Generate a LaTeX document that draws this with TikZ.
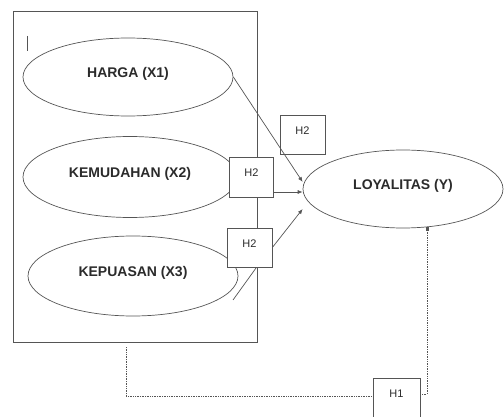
\documentclass[tikz,border=0pt]{standalone}
\usepackage{fontspec}
\setmainfont{Liberation Sans}
\usetikzlibrary{shapes.geometric,arrows.meta}
\definecolor{garis}{HTML}{555555}
\definecolor{teks}{HTML}{2B2B2B}
\tikzset{
  konstruk/.style={ellipse, draw=garis, line width=0.7pt, fill=white, text=teks,
    font=\fontsize{14}{16}\selectfont\bfseries, text depth=10pt, inner sep=0pt},
  hipotesis/.style={rectangle, draw=garis, line width=0.7pt, fill=white, text=teks,
    font=\fontsize{11}{13}\selectfont, text depth=8pt, inner sep=0pt},
  panah/.style={draw=garis, line width=0.7pt, -{Latex[length=5pt,width=4pt]}},
  titik/.style={draw=garis, line width=0.7pt, densely dotted},
}

\begin{document}
\begin{tikzpicture}[x=1pt,y=-1pt]
  \useasboundingbox (0,0) rectangle (504,417);
  \clip (0,0) rectangle (504,417);
  % kotak variabel X
  \node[draw=garis, line width=0.8pt, minimum width=244pt, minimum height=331pt, inner sep=0pt] (kotak) at (135,176.5) {};
  \draw[garis, line width=0.5pt] (27,36) -- (27,51);
  % konstruk
  \node[konstruk, minimum width=210pt, minimum height=78pt] (harga) at (128,77) {HARGA (X1)};
  \node[konstruk, minimum width=214pt, minimum height=81pt] (mudah) at (130,177) {KEMUDAHAN (X2)};
  \node[konstruk, minimum width=210pt, minimum height=80pt] (puas) at (133,276) {KEPUASAN (X3)};
  \node[konstruk, minimum width=200pt, minimum height=78pt] (loyal) at (403,189) {LOYALITAS (Y)};
  % hipotesis
  \node[hipotesis, minimum width=45pt, minimum height=39pt] (h2a) at (302.5,134.5) {H2};
  \node[hipotesis, minimum width=44pt, minimum height=40pt] (h2b) at (251.5,177) {H2};
  \node[hipotesis, minimum width=45pt, minimum height=39pt] (h2c) at (249.5,247.5) {H2};
  \node[hipotesis, minimum width=47pt, minimum height=40pt] (h1) at (396.5,398) {H1};
  % garis
  \draw[panah] (harga.east) -- ([yshift=7pt]loyal.west);
  \draw[panah] ([yshift=-15pt]h2b.east) -- ([yshift=-3pt]loyal.west);
  \draw[panah] (h2c.east) -- ([yshift=-20pt]loyal.west);
  \coordinate (ujungx3) at (233,300);
  \draw[garis, line width=0.7pt] (ujungx3) -- ([xshift=7pt]h2c.south);
  \coordinate (awalh1) at (126,347);
  \draw[titik] (awalh1) |- ([yshift=2pt]h1.west);
  \draw[titik, -{Square[length=3pt,width=3pt]}] ([yshift=4pt]h1.east) -| ([xshift=24pt,yshift=1pt]loyal.south);
\end{tikzpicture}
\end{document}
